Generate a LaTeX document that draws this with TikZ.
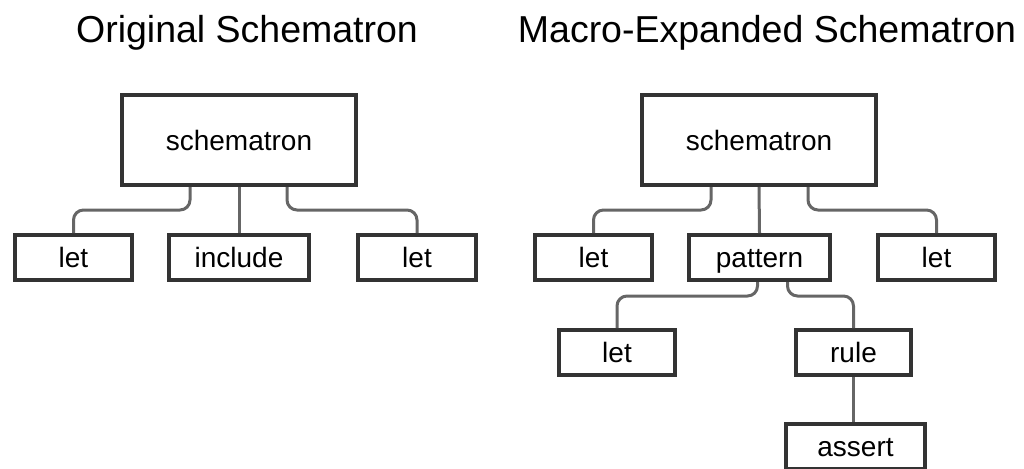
\documentclass[tikz,border=0pt]{standalone}
\usepackage{fontspec}
\setmainfont{Liberation Sans}
\usetikzlibrary{positioning}

\tikzset{
  elem/.style={draw=black!80, line width=4pt, fill=white, inner sep=0pt,
    minimum height=45pt, text height=20pt, text depth=0pt,
    font=\fontsize{28}{30}\selectfont},
  root/.style={elem, minimum width=234pt, minimum height=90pt},
  link/.style={draw=black!60, line width=3pt, rounded corners=10pt},
  heading/.style={anchor=base, font=\fontsize{37.5}{40}\selectfont}
}

\begin{document}
\begin{tikzpicture}[x=1pt, y=1pt]
    \useasboundingbox (0,0) rectangle (1024,-468);

    % Headings
    \node[heading] (hOrig) at (247,-43) {Original Schematron};
    \node[heading] (hExp) at (767,-43) {Macro-Expanded Schematron};

    % Original tree
    \node[root] (schL) at (239,-140) {schematron};
    \node[elem, minimum width=117pt] (letA) at (73.5,-257.5) {let};
    \node[elem, minimum width=140pt] (incl) at (239,-257.5) {include};
    \node[elem, minimum width=118pt] (letB) at (417,-257.5) {let};

    \draw[link] ([xshift=-49pt]schL.south) -- ++(0,-23) -| (letA.north);
    \draw[link] (schL.south) -- (incl.north);
    \draw[link] ([xshift=48pt]schL.south) -- ++(0,-23) -| (letB.north);

    % Expanded tree
    \node[root] (schR) at (759,-140) {schematron};
    \node[elem, minimum width=117pt] (letC) at (593.5,-257.5) {let};
    \node[elem, minimum width=141pt] (patt) at (759.5,-257.5) {pattern};
    \node[elem, minimum width=117pt] (letD) at (936.5,-257.5) {let};
    \node[elem, minimum width=116pt] (letE) at (617,-352.5) {let};
    \node[elem, minimum width=115pt] (rule) at (853.5,-352.5) {rule};
    \node[elem, minimum width=139pt] (asrt) at (855.5,-446.5) {assert};

    \draw[link] ([xshift=-48pt]schR.south) -- ++(0,-23) -| (letC.north);
    \draw[link] (schR.south) -- (patt.north);
    \draw[link] ([xshift=49pt]schR.south) -- ++(0,-23) -| (letD.north);

    % pattern children
    \draw[link] ([xshift=-2pt]patt.south) -- ++(0,-14) -| (letE.north);
    \draw[link] ([xshift=28pt]patt.south) -- ++(0,-14) -| (rule.north);
    \draw[link] (rule.south) -- (rule.south |- asrt.north);
\end{tikzpicture}
\end{document}
